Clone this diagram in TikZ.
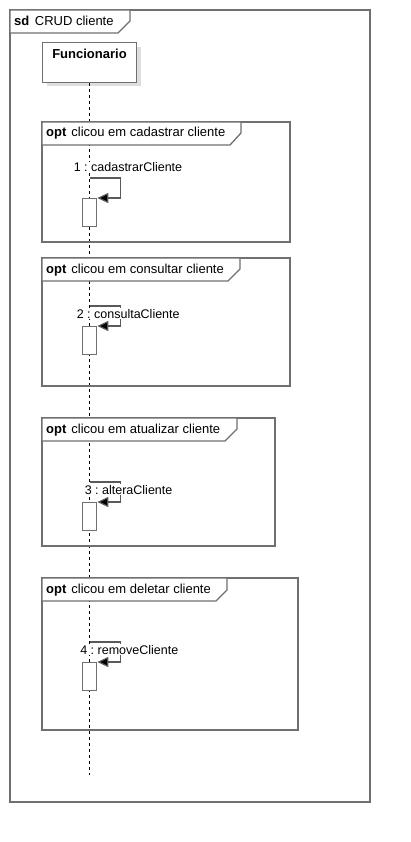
\documentclass[tikz,border=0pt]{standalone}
\usepackage{fontspec}
\setmainfont{Liberation Sans}
\usetikzlibrary{arrows.meta}
\definecolor{framec}{RGB}{112,112,112}
\definecolor{shadowc}{RGB}{222,222,222}
\frenchspacing
\begin{document}
\begin{tikzpicture}[x=1pt,y=-1pt,
  lbl/.style={font=\fontsize{13}{15}\selectfont, inner sep=0pt, anchor=base west, text=black},
  msglbl/.style={font=\fontsize{12.5}{15}\selectfont, inner sep=0.6pt, anchor=base west, text=black, fill=white},
  frm/.style={draw=framec, line width=1.3pt},
  tabshape/.style={draw=framec, line width=1.3pt, fill=white},
  headbox/.style={draw=framec, line width=1.1pt, fill=white, minimum width=94pt, minimum height=40pt, inner sep=0pt, anchor=north},
  actbox/.style={draw=framec, line width=1.3pt, fill=white, minimum width=14pt, minimum height=28pt, inner sep=0pt, anchor=north west},
  msg/.style={draw=black!65, line width=1.2pt, -{Triangle[length=11pt,width=10pt,fill=black]}},
  lifeline/.style={draw=black, line width=1pt, dash pattern=on 3pt off 3pt},
]
\useasboundingbox (0,0) rectangle (410,842);
% outer sd frame
\draw[frm] (10,10) rectangle (370,802);
\draw[tabshape] (10,10) -- (130,10) -- (130,21) -- (118,33) -- (10,33) -- cycle;
\node[lbl] (sdlbl) at (14,26) {\textbf{sd}\hspace{5.5pt}CRUD cliente};
% lifeline head
\fill[shadowc] (47,47) rectangle (141,86);
\node[headbox] (fun) at (89.5,42) {};
\node[lbl, anchor=base] (funlbl) at (89.5,59) {\textbf{Funcionario}};
\coordinate (lifeend) at (89.5,775);
\draw[lifeline] (fun.south) -- (lifeend);
% opt frames
\draw[frm] (42,122) rectangle (290,242);
\draw[tabshape] (42,122) -- (241,122) -- (241,133) -- (230,145) -- (42,145) -- cycle;
\node[lbl] (opt1) at (46,137) {\textbf{opt}\hspace{5pt}clicou em cadastrar cliente};
\draw[frm] (42,258) rectangle (290,386);
\draw[tabshape] (42,258) -- (240,258) -- (240,269) -- (228,281) -- (42,281) -- cycle;
\node[lbl] (opt2) at (46,273) {\textbf{opt}\hspace{5pt}clicou em consultar cliente};
\draw[frm] (42,418) rectangle (275,546);
\draw[tabshape] (42,418) -- (237,418) -- (237,429) -- (225,441) -- (42,441) -- cycle;
\node[lbl] (opt3) at (46,433) {\textbf{opt}\hspace{5pt}clicou em atualizar cliente};
\draw[frm] (42,578) rectangle (298,730);
\draw[tabshape] (42,578) -- (227,578) -- (227,590) -- (216,601) -- (42,601) -- cycle;
\node[lbl] (opt4) at (46,593) {\textbf{opt}\hspace{5pt}clicou em deletar cliente};
% activations
\node[actbox] (act1) at (82,198) {};
\node[actbox] (act2) at (82,326) {};
\node[actbox] (act3) at (82,502) {};
\node[actbox] (act4) at (82,662) {};
% self messages
\coordinate (m1) at (89.5,178);
\coordinate (m2) at (89.5,306);
\coordinate (m3) at (89.5,482);
\coordinate (m4) at (89.5,642);
\draw[msg] (m1) -- ++(31,0) |- (act1.north east);
\draw[msg] (m2) -- ++(31,0) |- (act2.north east);
\draw[msg] (m3) -- ++(31,0) |- (act3.north east);
\draw[msg] (m4) -- ++(31,0) |- (act4.north east);
% message labels
\node[msglbl] (l1) at (73,172) {1 : cadastrarCliente};
\node[msglbl] (l2) at (76,318) {2 : consultaCliente};
\node[msglbl] (l3) at (84,494) {3 : alteraCliente};
\node[msglbl] (l4) at (79.5,654) {4 : removeCliente};
\end{tikzpicture}
\end{document}
